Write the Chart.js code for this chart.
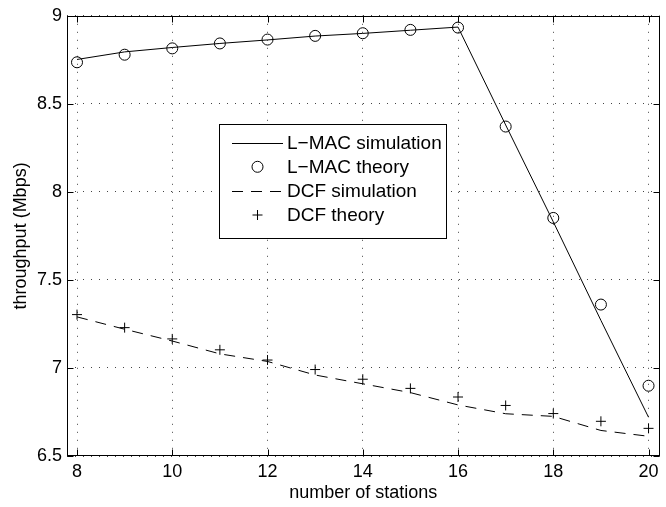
<!DOCTYPE html>
<html><head><meta charset="utf-8">
<script src="https://cdn.jsdelivr.net/npm/chart.js@4/dist/chart.umd.min.js"></script>
<style>html,body{margin:0;padding:0;background:#fff}#wrap{width:666px;height:507px;position:relative}</style>
</head><body><div id="wrap"><canvas id="c"></canvas></div>
<script>
const stations = [8, 9, 10, 11, 12, 13, 14, 15, 16, 17, 18, 19, 20];
const lmacSimulation = [8.752, 8.795, 8.820, 8.843, 8.863, 8.885, 8.900, 8.918, 8.936, 8.380, 7.830, 7.270, 6.720];
const lmacTheory     = [8.736, 8.779, 8.815, 8.843, 8.865, 8.886, 8.901, 8.920, 8.933, 8.371, 7.852, 7.360, 6.899];
const dcfSimulation  = [7.290, 7.220, 7.153, 7.080, 7.037, 6.960, 6.910, 6.860, 6.790, 6.740, 6.725, 6.645, 6.612];
const dcfTheory      = [7.303, 7.229, 7.165, 7.103, 7.045, 6.991, 6.936, 6.884, 6.835, 6.787, 6.741, 6.697, 6.657];
const xTickValues = [8, 10, 12, 14, 16, 18, 20];
const yTickValues = [6.5, 7, 7.5, 8, 8.5, 9];
const seriesLabels = ['L\u2212MAC simulation', 'L\u2212MAC theory', 'DCF simulation', 'DCF theory'];
const xTitle = 'number of stations';
const yTitle = 'throughput (Mbps)';

const FONT = "'Liberation Sans', Arial, Helvetica, sans-serif";
const FS = 18;
const LFS = 19;
const toXY = arr => stations.map((s, i) => ({x: s, y: arr[i]}));

const framePlugin = {
  id: 'frame',
  afterDraw(chart) {
    const {ctx, chartArea: a, scales: {x, y}} = chart;
    ctx.save();
    ctx.strokeStyle = '#000';
    ctx.lineWidth = 1;
    ctx.setLineDash([]);
    const L = Math.round(a.left) + 0.5, R = Math.round(a.right) - 0.5;
    const T = Math.round(a.top) + 0.5, B = Math.round(a.bottom) - 0.5;
    ctx.strokeRect(L, T, R - L, B - T);
    const tl = 6;
    ctx.beginPath();
    xTickValues.forEach(v => {
      const px = Math.round(x.getPixelForValue(v)) + 0.5;
      ctx.moveTo(px, B); ctx.lineTo(px, B - tl);
      ctx.moveTo(px, T); ctx.lineTo(px, T + tl);
    });
    yTickValues.forEach(v => {
      const py = Math.round(y.getPixelForValue(v)) + 0.5;
      ctx.moveTo(L, py); ctx.lineTo(L + tl, py);
      ctx.moveTo(R, py); ctx.lineTo(R - tl, py);
    });
    ctx.stroke();

    // legend
    const bx = 219.5, by = 124.5, bw = 227, bh = 114;
    ctx.fillStyle = '#fff';
    ctx.fillRect(bx, by, bw, bh);
    ctx.strokeRect(bx, by, bw, bh);
    const x0 = 232, x1 = 283, tx = 287;
    ctx.font = LFS + 'px ' + FONT;
    ctx.textBaseline = 'middle';
    ctx.textAlign = 'left';
    chart.data.datasets.forEach((ds, i) => {
      const yy = 142.7 + i * 24.1;
      ctx.strokeStyle = '#000';
      ctx.lineWidth = 1;
      if (ds.showLine !== false) {
        ctx.setLineDash(ds.borderDash || []);
        ctx.beginPath();
        ctx.moveTo(x0, Math.round(yy) + 0.5); ctx.lineTo(x1, Math.round(yy) + 0.5);
        ctx.stroke();
        ctx.setLineDash([]);
      } else {
        const cx = (x0 + x1) / 2, r = ds.pointRadius;
        ctx.beginPath();
        if (ds.pointStyle === 'circle') {
          ctx.arc(cx, yy, r, 0, Math.PI * 2);
        } else {
          ctx.moveTo(cx - r, yy); ctx.lineTo(cx + r, yy);
          ctx.moveTo(cx, yy - r); ctx.lineTo(cx, yy + r);
        }
        ctx.stroke();
      }
      ctx.fillStyle = '#000';
      ctx.fillText(ds.label, tx, yy + 1);
    });
    ctx.restore();
  }
};

new Chart(document.getElementById('c'), {
  type: 'line',
  data: {
    datasets: [
      {label: seriesLabels[0], data: toXY(lmacSimulation), borderColor: '#000', borderWidth: 1, pointRadius: 0, tension: 0, fill: false},
      {label: seriesLabels[1], data: toXY(lmacTheory), showLine: false, borderColor: '#000', backgroundColor: 'rgba(0,0,0,0)', pointStyle: 'circle', pointRadius: 5.5, pointBorderWidth: 1, pointBorderColor: '#000', pointBackgroundColor: 'rgba(0,0,0,0)'},
      {label: seriesLabels[2], data: toXY(dcfSimulation), borderColor: '#000', borderWidth: 1, borderDash: [11, 8], pointRadius: 0, tension: 0, fill: false},
      {label: seriesLabels[3], data: toXY(dcfTheory), showLine: false, borderColor: '#000', pointStyle: 'cross', pointRadius: 5, pointBorderWidth: 1, pointBorderColor: '#000'}
    ]
  },
  options: {
    responsive: true,
    maintainAspectRatio: false,
    animation: false,
    devicePixelRatio: 1,
    layout: {padding: {top: 11, right: 2, left: 0, bottom: 0}},
    plugins: {legend: {display: false}, tooltip: {enabled: false}},
    scales: {
      x: {
        type: 'linear', min: 7.79, max: 20.23,
        afterBuildTicks: s => { s.ticks = xTickValues.map(v => ({value: v})); },
        afterFit: s => { s.height = 51; },
        ticks: {font: {family: FONT, size: FS}, color: '#000', padding: 5, maxRotation: 0, autoSkip: false, callback: v => String(v)},
        grid: {color: '#444', lineWidth: 1, drawTicks: false},
        border: {display: false, dash: [1, 7]},
        title: {display: true, text: xTitle, font: {family: FONT, size: FS}, color: '#000', padding: {top: 0, bottom: 3}}
      },
      y: {
        type: 'linear', min: 6.5, max: 9,
        afterBuildTicks: s => { s.ticks = yTickValues.map(v => ({value: v})); },
        afterFit: s => { s.width = 67; },
        ticks: {font: {family: FONT, size: FS}, color: '#000', padding: 5, autoSkip: false, callback: v => String(v)},
        grid: {color: '#444', lineWidth: 1, drawTicks: false},
        border: {display: false, dash: [1, 7]},
        title: {display: true, text: yTitle, font: {family: FONT, size: FS}, color: '#000', padding: {top: 10, bottom: 0}}
      }
    }
  },
  plugins: [framePlugin]
});
</script>
</body></html>
